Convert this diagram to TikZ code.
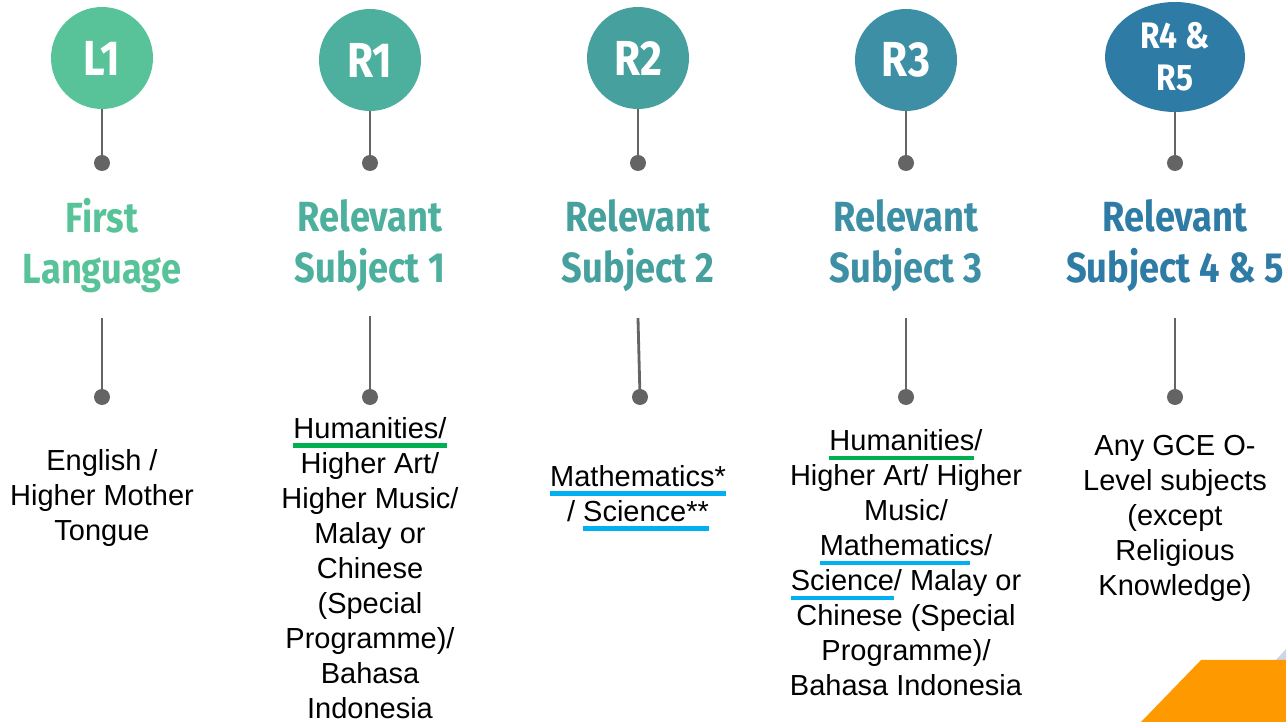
\documentclass[tikz,border=0pt]{standalone}
\usepackage{fontspec}
\setmainfont{Liberation Sans}
\newfontfamily\headfont[FakeStretch=0.86]{Fira Sans Bold}
\usetikzlibrary{shapes.geometric, positioning}

\definecolor{lvlone}{RGB}{88,195,153}
\definecolor{rone}{RGB}{77,175,157}
\definecolor{rtwo}{RGB}{69,160,158}
\definecolor{rthree}{RGB}{60,143,164}
\definecolor{rfour}{RGB}{46,123,165}
\definecolor{stemgray}{RGB}{100,100,100}
\definecolor{ulgreen}{RGB}{0,176,80}
\definecolor{ulblue}{RGB}{0,176,240}
\definecolor{cornerorange}{RGB}{255,153,0}
\definecolor{cornerblue}{RGB}{205,212,232}

% coloured underline for one word
\newcommand{\cul}[2]{\leavevmode\setbox0\hbox{#2}\rlap{\color{#1}\rule[-5.2pt]{\wd0}{2.4pt}}\box0}

\begin{document}
\begin{tikzpicture}[
    x=0.02cm, y=-0.02cm,
    % Styles
    level_circle/.style={
        circle,
        fill=#1,
        minimum size=2.04cm,
        inner sep=0pt,
        text=white,
        font=\headfont\fontsize{28}{30}\selectfont
    },
    level_oval/.style={
        ellipse,
        fill=#1,
        minimum width=2.8cm,
        minimum height=2.2cm,
        inner sep=0pt,
        align=center,
        text=white,
        font=\headfont\fontsize{21}{24}\selectfont
    },
    pin_dot/.style={circle, fill=stemgray, minimum size=0.32cm, inner sep=0pt},
    stem/.style={draw=stemgray, line width=1.6pt},
    heading/.style={
        align=center,
        text=#1,
        font=\headfont\fontsize{24}{29}\selectfont
    },
    subjects/.style={
        align=center,
        inner sep=0pt,
        font=\fontsize{16.5}{19.9}\selectfont
    }
]
    \useasboundingbox (0,0) rectangle (1286,722);

    % --- Corner decoration ---
    \fill[cornerblue] (1276,660) -- (1286,649) -- (1286,660) -- cycle;
    \fill[cornerorange] (1141,722) -- (1201,660) -- (1286,660) -- (1286,722) -- cycle;

    % --- Level circles ---
    \node[level_circle=lvlone] (l1) at (102,58) {L1};
    \node[level_circle=rone] (r1) at (370,60) {R1};
    \node[level_circle=rtwo] (r2) at (638,58) {R2};
    \node[level_circle=rthree] (r3) at (906,60) {R3};
    \node[level_oval=rfour] (r45) at (1175,57) {R4 \&\\R5};

    % --- Upper dots ---
    \node[pin_dot] (l1dot) at (102,163) {};
    \node[pin_dot] (r1dot) at (370,163) {};
    \node[pin_dot] (r2dot) at (638,163) {};
    \node[pin_dot] (r3dot) at (906,163) {};
    \node[pin_dot] (r45dot) at (1175,163) {};

    \draw[stem] (l1.south) -- (l1dot.center);
    \draw[stem] (r1.south) -- (r1dot.center);
    \draw[stem] (r2.south) -- (r2dot.center);
    \draw[stem] (r3.south) -- (r3dot.center);
    \draw[stem] (r45.south) -- (r45dot.center);

    % --- Headings ---
    \node[heading=lvlone] (l1head) at (102,246) {First\\Language};
    \node[heading=rone] (r1head) at (370,246) {Relevant\\Subject 1};
    \node[heading=rtwo] (r2head) at (638,246) {Relevant\\Subject 2};
    \node[heading=rthree] (r3head) at (906,246) {Relevant\\Subject 3};
    \node[heading=rfour] (r45head) at (1175,246) {Relevant\\Subject 4 \& 5};

    % --- Lower stems ---
    \coordinate (l1top) at (102,318);
    \coordinate (r1top) at (370,316);
    \coordinate (r2top) at (638,318);
    \coordinate (r3top) at (906,318);
    \coordinate (r45top) at (1175,318);

    \node[pin_dot] (l1low) at (102,397) {};
    \node[pin_dot] (r1low) at (370,397) {};
    \node[pin_dot] (r2low) at (640,397) {};
    \node[pin_dot] (r3low) at (906,397) {};
    \node[pin_dot] (r45low) at (1175,397) {};

    \draw[stem] (l1top) -- (l1low.center);
    \draw[stem] (r1top) -- (r1low.center);
    \draw[stem] (r2top) -- (r2low.center);
    \draw[stem] (r3top) -- (r3low.center);
    \draw[stem] (r45top) -- (r45low.center);

    % --- Subject lists ---
    \node[subjects] (l1text) at (102,498) {English /\\Higher Mother\\Tongue};
    \node[subjects] (r1text) at (370,568) {\cul{ulgreen}{Humanities/}\\Higher Art/\\Higher Music/\\Malay or\\Chinese\\(Special\\Programme)/\\Bahasa\\Indonesia};
    \node[subjects] (r2text) at (638,498) {\cul{ulblue}{Mathematics*}\\/ \cul{ulblue}{Science**}};
    \node[subjects] (r3text) at (906,563) {\cul{ulgreen}{Humanities}/\\Higher Art/ Higher\\Music/\\\cul{ulblue}{Mathematic}s/\\\cul{ulblue}{Science}/ Malay or\\Chinese (Special\\Programme)/\\Bahasa Indonesia};
    \node[subjects] (r45text) at (1175,518) {Any GCE O-\\Level subjects\\(except\\Religious\\Knowledge)};

\end{tikzpicture}
\end{document}
